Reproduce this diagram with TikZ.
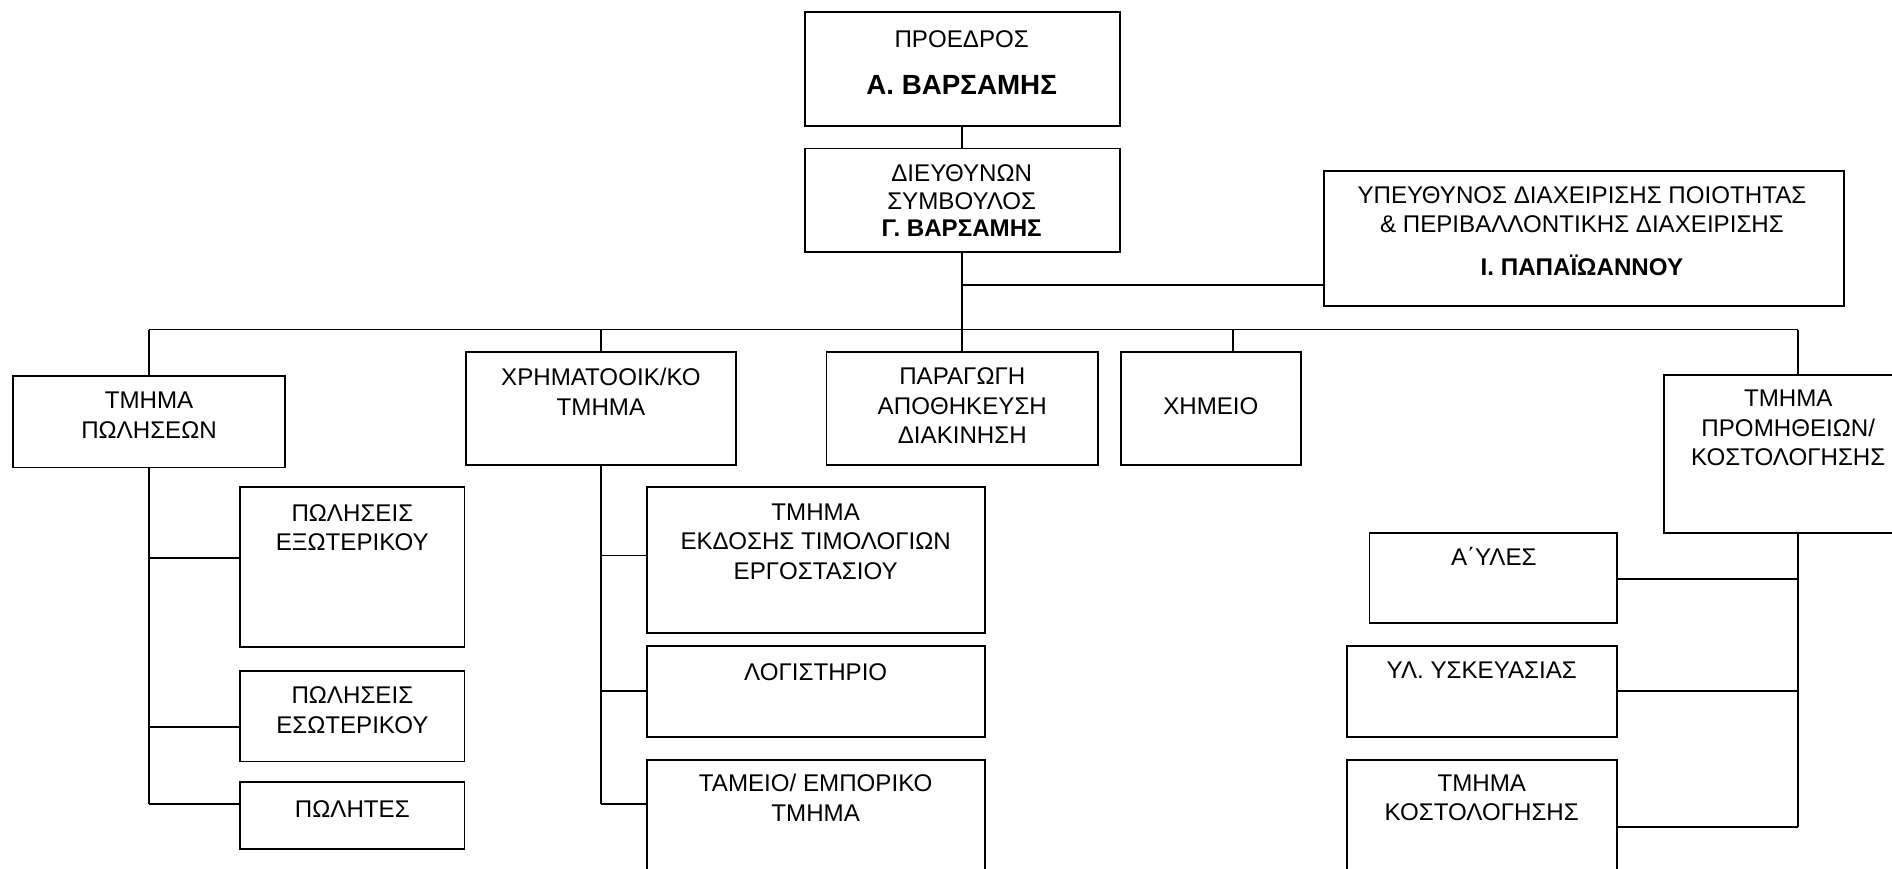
\documentclass[tikz,border=0pt]{standalone}
\usepackage{fontspec}
\setmainfont{Liberation Sans}
\begin{document}
\begin{tikzpicture}[x=1pt,y=-1pt,
  box/.style={draw, line width=1.5pt, rectangle, inner sep=0pt},
  txt/.style={inner sep=0pt, align=center, font=\fontsize{20}{24.5}\selectfont},
  nm/.style={inner sep=0pt, anchor=base, font=\fontsize{20}{24.5}\selectfont\bfseries},
  wire/.style={line width=1.5pt}]
\useasboundingbox (0,0) rectangle (1568,719.4);
\clip (0,0) rectangle (1568,719.4);

% boxes
\node[box, minimum width=261pt, minimum height=94.1pt] (pres) at (797.5,57.15) {};
\node[box, minimum width=261pt, minimum height=85.8pt] (ceo) at (797.5,165.9) {};
\node[box, minimum width=431pt, minimum height=112pt] (qual) at (1312.5,197.8) {};
\node[box, minimum width=225pt, minimum height=75.7pt] (sales) at (123.5,349.55) {};
\node[box, minimum width=224pt, minimum height=94.1pt] (fin) at (498,338.55) {};
\node[box, minimum width=225pt, minimum height=94.1pt] (prod) at (797.5,338.55) {};
\node[box, minimum width=149pt, minimum height=94.1pt] (chem) at (1003.5,338.55) {};
\node[box, minimum width=206pt, minimum height=131.3pt] (proc) at (1482,376.35) {};
\node[box, minimum width=186pt, minimum height=132.2pt] (exo) at (292,470) {};
\node[box, minimum width=186pt, minimum height=74.8pt] (eso) at (292,593.7) {};
\node[box, minimum width=186pt, minimum height=55.6pt] (polites) at (292,675.8) {};
\node[box, minimum width=280pt, minimum height=120.7pt] (invoice) at (676,464.25) {};
\node[box, minimum width=280pt, minimum height=75.3pt] (acct) at (676,572.85) {};
\node[box, minimum width=280pt, minimum height=150.2pt] (cash) at (676,704.9) {};
\node[box, minimum width=205pt, minimum height=74.4pt] (raw) at (1237.5,479.2) {};
\node[box, minimum width=224pt, minimum height=75.3pt] (pack) at (1228,572.85) {};
\node[box, minimum width=224pt, minimum height=150.2pt] (cost) at (1228,704.9) {};

% texts
\node[txt, anchor=base] (pres-t) at (797,39.3) {ΠΡΟΕΔΡΟΣ};
\node[nm, font=\fontsize{23}{26}\selectfont\bfseries] (pres-n) at (797,78) {Α. ΒΑΡΣΑΜΗΣ};
\node[txt, font=\fontsize{20}{22.7}\selectfont] (ceo-t) at (797,166.4) {ΔΙΕΥΘΥΝΩΝ\\ΣΥΜΒΟΥΛΟΣ\\\textbf{Γ. ΒΑΡΣΑΜΗΣ}};
\node[txt] (qual-t) at (1311,173.75) {ΥΠΕΥΘΥΝΟΣ ΔΙΑΧΕΙΡΙΣΗΣ ΠΟΙΟΤΗΤΑΣ\\\& ΠΕΡΙΒΑΛΛΟΝΤΙΚΗΣ ΔΙΑΧΕΙΡΙΣΗΣ};
\node[nm] (qual-n) at (1311,228.4) {Ι. ΠΑΠΑΪΩΑΝΝΟΥ};
\node[txt] (sales-t) at (123.5,344.25) {ΤΜΗΜΑ\\ΠΩΛΗΣΕΩΝ};
\node[txt] (fin-t) at (498,324.5) {ΧΡΗΜΑΤΟΟΙΚ/ΚΟ\\ΤΜΗΜΑ};
\node[txt] (prod-t) at (797.5,336.45) {ΠΑΡΑΓΩΓΗ\\ΑΠΟΘΗΚΕΥΣΗ\\ΔΙΑΚΙΝΗΣΗ};
\node[txt, anchor=base] (chem-t) at (1003.5,343.6) {ΧΗΜΕΙΟ};
\node[txt] (proc-t) at (1482,354.8) {ΤΜΗΜΑ\\ΠΡΟΜΗΘΕΙΩΝ/\\ΚΟΣΤΟΛΟΓΗΣΗΣ};
\node[txt] (exo-t) at (292,437.2) {ΠΩΛΗΣΕΙΣ\\ΕΞΩΤΕΡΙΚΟΥ};
\node[txt] (eso-t) at (292,588.65) {ΠΩΛΗΣΕΙΣ\\ΕΣΩΤΕΡΙΚΟΥ};
\node[txt, anchor=base] (polites-t) at (292,677.2) {ΠΩΛΗΤΕΣ};
\node[txt] (invoice-t) at (676,448.7) {ΤΜΗΜΑ\\ΕΚΔΟΣΗΣ ΤΙΜΟΛΟΓΙΩΝ\\ΕΡΓΟΣΤΑΣΙΟΥ};
\node[txt, anchor=base] (acct-t) at (676,564) {ΛΟΓΙΣΤΗΡΙΟ};
\node[txt] (cash-t) at (676,661.2) {ΤΑΜΕΙΟ/ ΕΜΠΟΡΙΚΟ\\ΤΜΗΜΑ};
\node[txt, anchor=base] (raw-t) at (1238,468.5) {Α΄ΥΛΕΣ};
\node[txt, anchor=base] (pack-t) at (1228,562.6) {ΥΛ. ΥΣΚΕΥΑΣΙΑΣ};
\node[txt] (cost-t) at (1228,661.2) {ΤΜΗΜΑ\\ΚΟΣΤΟΛΟΓΗΣΗΣ};

% junction coordinates
\coordinate (busL) at (123.5,273.1);
\coordinate (busR) at (1490,273.1);
\coordinate (qj) at (797.5,235.9);
\coordinate (chemdrop) at (1022,273.1);
\coordinate (procdrop) at (1490,273.1);
\coordinate (s1) at (123.5,462.2);
\coordinate (s2) at (123.5,602.6);
\coordinate (s3) at (123.5,666.5);
\coordinate (f1) at (498,460.4);
\coordinate (f2) at (498,572.8);
\coordinate (f3) at (498,666.5);
\coordinate (p0) at (1490,442);
\coordinate (p1) at (1490,479.7);
\coordinate (p2) at (1490,572.8);
\coordinate (p3) at (1490,685.7);

% connectors
\draw[wire] (pres.south) -- (ceo.north);
\draw[wire] (ceo.south) -- (ceo.south |- busL);
\draw[wire] (qj) -- (qj -| qual.west);
\draw[wire] (busL) -- (busR);
\draw[wire] (busL) -- (sales.north);
\draw[wire] (fin.north |- busL) -- (fin.north);
\draw[wire] (prod.north |- busL) -- (prod.north);
\draw[wire] (chemdrop) -- (chemdrop |- chem.north);
\draw[wire] (procdrop) -- (procdrop |- proc.north);

\draw[wire] (sales.south) -- (s3);
\draw[wire] (s1) -- (s1 -| exo.west);
\draw[wire] (s2) -- (s2 -| eso.west);
\draw[wire] (s3) -- (s3 -| polites.west);

\draw[wire] (fin.south) -- (f3);
\draw[wire] (f1) -- (f1 -| invoice.west);
\draw[wire] (f2) -- (f2 -| acct.west);
\draw[wire] (f3) -- (f3 -| cash.west);

\draw[wire] (p0) -- (p3);
\draw[wire] (p1) -- (p1 -| raw.east);
\draw[wire] (p2) -- (p2 -| pack.east);
\draw[wire] (p3) -- (p3 -| cost.east);
\end{tikzpicture}
\end{document}
